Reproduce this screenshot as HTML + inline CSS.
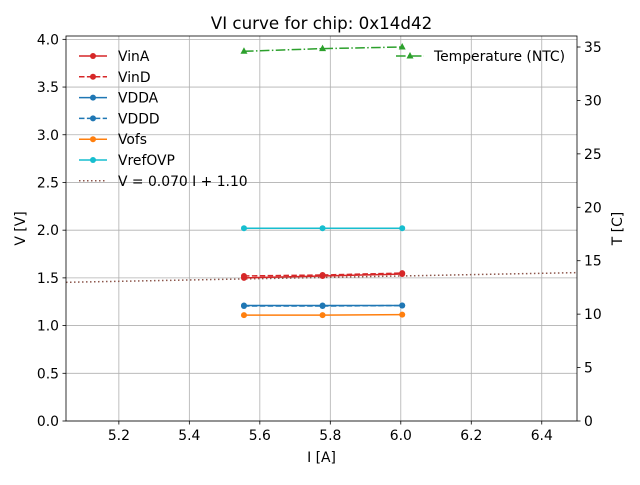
<!DOCTYPE html>
<html><head><meta charset="utf-8"><style>
body{margin:0;background:#fff;font-family:"Liberation Sans","DejaVu Sans",sans-serif}
svg text{font-family:"DejaVu Sans","Liberation Sans",sans-serif}
</style></head><body>
<svg id="chart" width="640" height="480" xmlns="http://www.w3.org/2000/svg"></svg>
<script>
const xVals=[5.555,5.778,6.004];
const vinA=[1.50,1.52,1.54];
const vinD=[1.52,1.53,1.55];
const vdda=[1.21,1.21,1.21];
const vddd=[1.205,1.205,1.21];
const vofs=[1.11,1.11,1.115];
const vrefOVP=[2.02,2.02,2.02];
const temperature=[34.6,34.85,35.0];
const fitSlope=0.070, fitIntercept=1.10;
const xTicks=[5.2,5.4,5.6,5.8,6.0,6.2,6.4];
const yTicks=[0,0.5,1.0,1.5,2.0,2.5,3.0,3.5,4.0];
const tTicks=[0,5,10,15,20,25,30,35];

const L=66,R=577,T=36,B=421;
const X0=5.05,X1=6.5,Y0=0,Y1=4.035,TY1=36.03;
const sx=v=>L+(v-X0)/(X1-X0)*(R-L);
const sy=v=>B-(v-Y0)/(Y1-Y0)*(B-T);
const st=v=>B-v/TY1*(B-T);
const svg=document.getElementById('chart');
const NS='http://www.w3.org/2000/svg';
function mk(tag,attrs,parent){const e=document.createElementNS(NS,tag);for(const k in attrs)e.setAttribute(k,attrs[k]);(parent||svg).appendChild(e);return e;}
function txt(s,attrs){const e=mk('text',attrs);e.textContent=s;return e;}
const FS=13.9;

xTicks.forEach(v=>{const g=mk('line',{x1:sx(v),x2:sx(v),y1:T,y2:B,stroke:'#b0b0b0','stroke-width':0.8});

});
yTicks.forEach(v=>{const g=mk('line',{x1:L,x2:R,y1:sy(v),y2:sy(v),stroke:'#b0b0b0','stroke-width':0.8});

});

const fit=mk('line',{x1:L,y1:sy(fitSlope*X0+fitIntercept),x2:R,y2:sy(fitSlope*X1+fitIntercept),stroke:'#8c564b','stroke-width':1.5,'stroke-dasharray':'1.5,2.5'});



function series(vals,color,dash,name,scale,marker){
  const pts=xVals.map((x,i)=>[sx(x),scale(vals[i])]);
  const p=mk('polyline',{points:pts.map(p=>p.join(',')).join(' '),fill:'none',stroke:color,'stroke-width':1.5,'stroke-dasharray':dash||'none'});
  
  
  pts.forEach(([x,y])=>{let m;
    if(marker==='tri')m=mk('polygon',{points:`${x},${y-4} ${x-3.5},${y+2.5} ${x+3.5},${y+2.5}`,fill:color});
    else m=mk('circle',{cx:x,cy:y,r:3,fill:color});
    
    });
}
series(vinA,'#d62728',null,'vina',sy);
series(vinD,'#d62728','5.5,2.4','vind',sy);
series(vdda,'#1f77b4',null,'vdda',sy);
series(vddd,'#1f77b4','5.5,2.4','vddd',sy);
series(vofs,'#ff7f0e',null,'vofs',sy);
series(vrefOVP,'#17becf',null,'vrefovp',sy);
series(temperature,'#2ca02c','9.6,2.4,1.5,2.4','temperature',st,'tri');

const fr=mk('rect',{x:L,y:T,width:R-L,height:B-T,fill:'none',stroke:'#000','stroke-width':0.8});



xTicks.forEach(v=>{mk('line',{x1:sx(v),x2:sx(v),y1:B,y2:B+3.5,stroke:'#000','stroke-width':0.8});
const t=txt(v.toFixed(1),{x:sx(v),y:B+19,'font-size':FS,'text-anchor':'middle'});

});
yTicks.forEach(v=>{mk('line',{x1:L-3.5,x2:L,y1:sy(v),y2:sy(v),stroke:'#000','stroke-width':0.8});
const t=txt(v.toFixed(1),{x:L-7,y:sy(v)+5,'font-size':FS,'text-anchor':'end'});

});
tTicks.forEach(v=>{mk('line',{x1:R,x2:R+3.5,y1:st(v),y2:st(v),stroke:'#000','stroke-width':0.8});
const t=txt(String(v),{x:R+7,y:st(v)+5,'font-size':FS,'text-anchor':'start'});

});

let e;
e=txt('VI curve for chip: 0x14d42',{x:(L+R)/2,y:29,'font-size':16.7,'text-anchor':'middle'});

e=txt('I [A]',{x:(L+R)/2,y:462,'font-size':FS,'text-anchor':'middle'});

e=txt('V [V]',{x:0,y:0,'font-size':FS,'text-anchor':'middle',transform:`translate(25,${(T+B)/2}) rotate(-90)`});

e=txt('T [C]',{x:0,y:0,'font-size':FS,'text-anchor':'middle',transform:`translate(622,${(T+B)/2}) rotate(-90)`});


const leg=[['VinA','#d62728',null,'c'],['VinD','#d62728','5.5,2.4','c'],['VDDA','#1f77b4',null,'c'],['VDDD','#1f77b4','5.5,2.4','c'],['Vofs','#ff7f0e',null,'c'],['VrefOVP','#17becf',null,'c'],['V = 0.070 I + 1.10','#8c564b','1.5,2.5','n']];
leg.forEach((l,i)=>{const y=56+i*20.8;
 mk('line',{x1:79,x2:107,y1:y,y2:y,stroke:l[1],'stroke-width':1.5,'stroke-dasharray':l[2]||'none'});
 if(l[3]==='c')mk('circle',{cx:93,cy:y,r:3,fill:l[1]});
 const t=txt(l[0],{x:118,y:y+5,'font-size':FS});
 });
mk('line',{x1:396,x2:424,y1:56,y2:56,stroke:'#2ca02c','stroke-width':1.5,'stroke-dasharray':'9.6,2.4,1.5,2.4'});
mk('polygon',{points:'410,52 406.5,58.5 413.5,58.5',fill:'#2ca02c'});
e=txt('Temperature (NTC)',{x:434,y:61,'font-size':FS});

</script>
</body></html>
